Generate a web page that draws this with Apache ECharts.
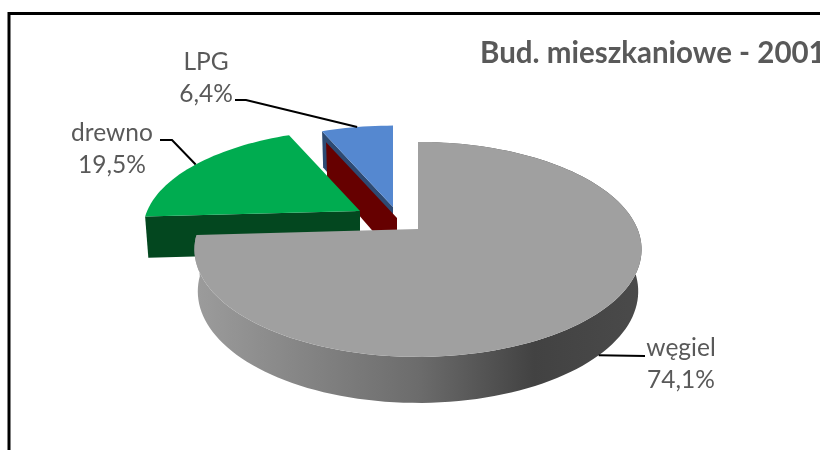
<!DOCTYPE html>
<html><head><meta charset="utf-8">
<style>html,body{margin:0;padding:0;background:#fff;overflow:hidden}#c{width:820px;height:450px}</style>
<script src="https://cdn.jsdelivr.net/npm/echarts@6/dist/echarts.min.js"></script>
</head><body><div id="c"></div>
<script>
// ---- data (clockwise from 12 o'clock) ----
const categories = ['węgiel', 'drewno', 'inne', 'LPG'];
const values = [74.1, 19.5, 0, 6.4];
const chartTitle = 'Bud. mieszkaniowe - 2001';

// ---- look ----
const FONT = 'Lato, "Open Sans", sans-serif';
const PIE = { ax: 417, ay: 229, rx: 219.5, ry: 103.6, k: 0.19, dBase: 41, dFront: 5, inset: 0.015 };
const paint = {
  'węgiel': { top: '#a0a0a0', wall: null, z: 40 },
  'drewno': { top: '#00ac50', wall: '#03471f', z: 30 },
  'inne':   { top: null, wall: '#660000', z: 20 },
  'LPG':    { top: '#5588d0', wall: '#2d4a73', z: 10 }
};
// explosion of each slice: screen offset and radius scale
const shift = {
  'węgiel': { dx: 1, dy: 0, sx: 1, sy: 1 },
  'drewno': { dx: -57, dy: -18, sx: 0.97, sy: 0.935 },
  'inne':   { dx: -20, dy: -11, sx: 0.97, sy: 0.935 },
  'LPG':    { dx: -24, dy: -22, sx: 0.97, sy: 0.935 }
};
const labelAt = {
  'węgiel': { x: 681, y: 364, elbow: [[645, 356]], rimZ: 1 },
  'drewno': { x: 112, y: 149, elbow: [[160, 140], [172, 140]], rimZ: 0 },
  'LPG':    { x: 206, y: 78, elbow: [[235, 100], [246, 100]], rimZ: 0 }
};

function project(u, v, z, off) {
  const w = 1 - PIE.k * v;
  const s = 1 - PIE.inset * z;
  return [PIE.ax + off.dx + off.sx * PIE.rx * u / w * s,
          PIE.ay + off.dy + off.sy * PIE.ry * v / w + z * (PIE.dBase + PIE.dFront * v)];
}
function rimPoint(off, deg, z) {
  const a = deg * Math.PI / 180;
  return project(Math.sin(a), -Math.cos(a), z, off);
}
function arc(off, a0, a1, z) {
  const pts = [], n = Math.max(2, Math.ceil(Math.abs(a1 - a0) / 2));
  for (let i = 0; i <= n; i++) pts.push(rimPoint(off, a0 + (a1 - a0) * i / n, z));
  return pts;
}

const total = values.reduce((a, b) => a + b, 0);
const grad = new echarts.graphic.LinearGradient(0, 0, 1, 0, [
  { offset: 0, color: '#9c9c9c' }, { offset: 0.5, color: '#6c6c6c' },
  { offset: 0.76, color: '#424242' }, { offset: 1, color: '#4a4a4a' }
]);

function renderSlice(params, api) {
  const name = categories[params.dataIndex];
  const val = api.value(0);
  let start = 0;
  for (let i = 0; i < params.dataIndex; i++) start += values[i];
  const a0 = start / total * 360, a1 = (start + val) / total * 360;
  const off = shift[name], p = paint[name], kids = [];
  const poly = (points, fill, z2) => kids.push({ type: 'polygon', z2, shape: { points }, style: { fill } });

  if (name === 'węgiel') {
    poly(arc(off, a0, a1, 0).concat(arc(off, a0, a1, 1).reverse()), grad, p.z);
  }
  if (p.wall) {
    poly([project(0, 0, 0, off), rimPoint(off, a0, 0), rimPoint(off, a0, 1), project(0, 0, 1, off)], p.wall, p.z);
  }
  if (p.top && val > 0) {
    poly([project(0, 0, 0, off)].concat(arc(off, a0, a1, 0)), p.top, p.z + 1);
  }
  const lab = labelAt[name];
  if (lab) {
    const mid = (a0 + a1) / 2;
    kids.push({ type: 'polyline', z2: 60, shape: { points: lab.elbow.concat([rimPoint(off, mid, lab.rimZ)]) },
      style: { stroke: '#000', lineWidth: 2, fill: null } });
    kids.push({ type: 'text', z2: 61, style: {
      text: name + '\n' + val.toFixed(1).replace('.', ',') + '%',
      x: lab.x, y: lab.y, align: 'center', verticalAlign: 'middle',
      font: '24.5px ' + FONT, lineHeight: 32, fill: '#595959' } });
  }
  return { type: 'group', children: kids };
}

const chart = echarts.init(document.getElementById('c'), null, { renderer: 'canvas' });
chart.setOption({
  animation: false,
  backgroundColor: '#fff',
  title: { text: chartTitle, left: 480, top: 38, padding: 0,
    textStyle: { fontFamily: FONT, fontSize: 29.5, fontWeight: 'bold', color: '#595959' } },
  graphic: [{ type: 'rect', silent: true, z: -1,
    shape: { x: 9, y: 13.5, width: 900, height: 600 }, style: { fill: null, stroke: '#000', lineWidth: 3 } }],
  series: [{
    type: 'custom', coordinateSystem: 'none', silent: true,
    renderItem: renderSlice,
    encode: { value: 0 },
    data: values.map(v => [v])
  }]
});
</script></body></html>
